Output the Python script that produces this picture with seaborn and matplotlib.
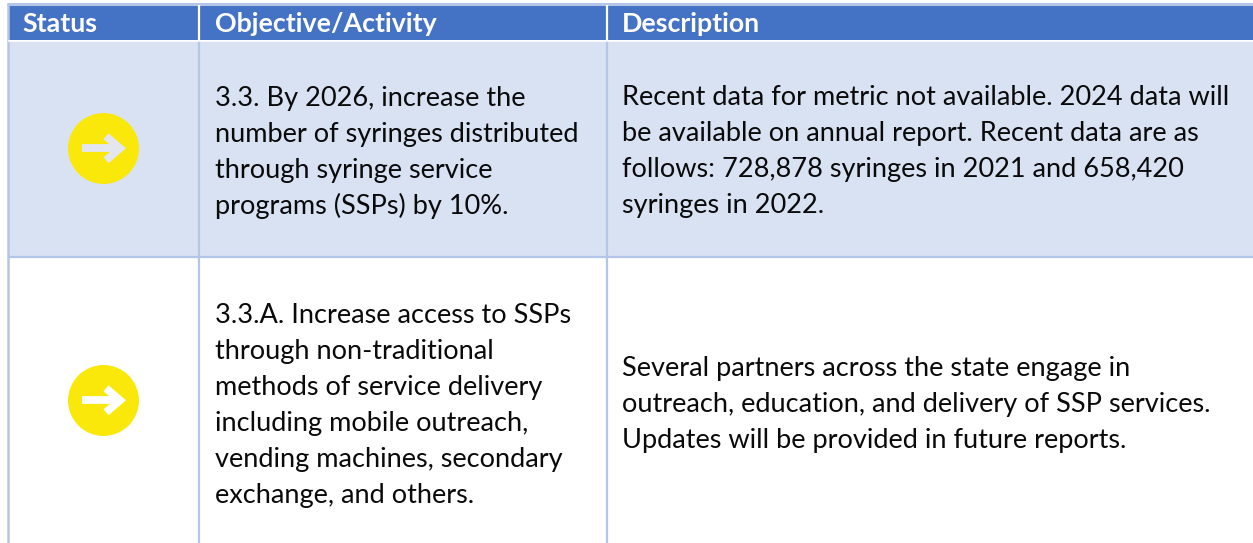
import matplotlib
matplotlib.use("Agg")
import matplotlib.pyplot as plt
from matplotlib.patches import Rectangle
import pandas as pd
import seaborn as sns

headers = ["Status", "Objective/Activity", "Description"]
objective_lines = [
    ["3.3. By 2026, increase the", "number of syringes distributed", "through syringe service", "programs (SSPs) by 10%."],
    ["3.3.A. Increase access to SSPs", "through non-traditional", "methods of service delivery", "including mobile outreach,", "vending machines, secondary", "exchange, and others."],
]
description_lines = [
    ["Recent data for metric not available. 2024 data will", "be available on annual report. Recent data are as", "follows: 728,878 syringes in 2021 and 658,420", "syringes in 2022."],
    ["Several partners across the state engage in", "outreach, education, and delivery of SSP services.", "Updates will be provided in future reports."],
]
status_row = [0, 1]

W, H = 1253, 543
HEAD = "#4472C4"; BAND = "#D9E2F3"; BORDER = "#B4C6E7"; YEL = "#FAE80B"
FS = 19.55; HFS = 19.3; LH = 36

sns.set_theme(style="white")
plt.rcParams["font.family"] = ["Lato", "DejaVu Sans"]
fig = plt.figure(figsize=(W / 100, H / 100), dpi=100)
ax = fig.add_axes([0, 0, 1, 1])
ax.set_xlim(0, W); ax.set_ylim(H, 0); ax.axis("off")

col_x = [8, 199, 607, W + 5]
ax.add_patch(Rectangle((8, 5), W, 35, fc=HEAD, ec="none", zorder=1))
ax.add_patch(Rectangle((8, 41), W, 216, fc=BAND, ec="none", zorder=1))
ax.plot([7, W], [4, 4], color=BORDER, lw=2.2, zorder=2, solid_capstyle="butt")
ax.plot([7.7, 7.7], [3, H], color=BORDER, lw=1.8, zorder=2, solid_capstyle="butt")
ax.plot([8, W], [40.7, 40.7], color="white", lw=1.1, zorder=3, solid_capstyle="butt")
ax.plot([8, W], [257, 257], color=BORDER, lw=1.6, zorder=2, solid_capstyle="butt")
for x in col_x[1:3]:
    ax.plot([x, x], [5, 41], color="white", lw=1.6, zorder=3, solid_capstyle="butt")
    ax.plot([x, x], [41, H], color=BORDER, lw=1.6, zorder=2, solid_capstyle="butt")

for x, h in zip([22, 215, 622], headers):
    ax.text(x, 31.5, h, color="white", fontsize=HFS, fontweight="bold", va="baseline", ha="left", zorder=4)

obj_base = [106, 323]
desc_base = [105, 376]
for r in status_row:
    for i, s in enumerate(objective_lines[r]):
        ax.text(215, obj_base[r] + i * LH, s, color="#0a0a0a", fontsize=FS, va="baseline", zorder=4)
    for i, s in enumerate(description_lines[r]):
        ax.text(622, desc_base[r] + i * LH, s, color="#0a0a0a", fontsize=FS, va="baseline", zorder=4)

centers = pd.DataFrame({"x": [103, 103], "y": [148.3, 400.3]})
sns.scatterplot(data=centers, x="x", y="y", s=(71 * 0.72) ** 2, color=YEL, linewidth=0, ax=ax, zorder=5, legend=False)
ax.set_xlim(0, W); ax.set_ylim(H, 0); ax.axis("off")
for cy, col in zip(centers["y"], ["#E3E6EE", "white"]):
    ax.plot([82, 118], [cy, cy], color=col, lw=5.6, solid_capstyle="butt", zorder=6)
    ax.plot([106, 120, 106], [cy - 12, cy, cy + 12], color=col, lw=5.6, solid_joinstyle="miter", solid_capstyle="butt", zorder=6)

fig.savefig("out.png", dpi=100)
